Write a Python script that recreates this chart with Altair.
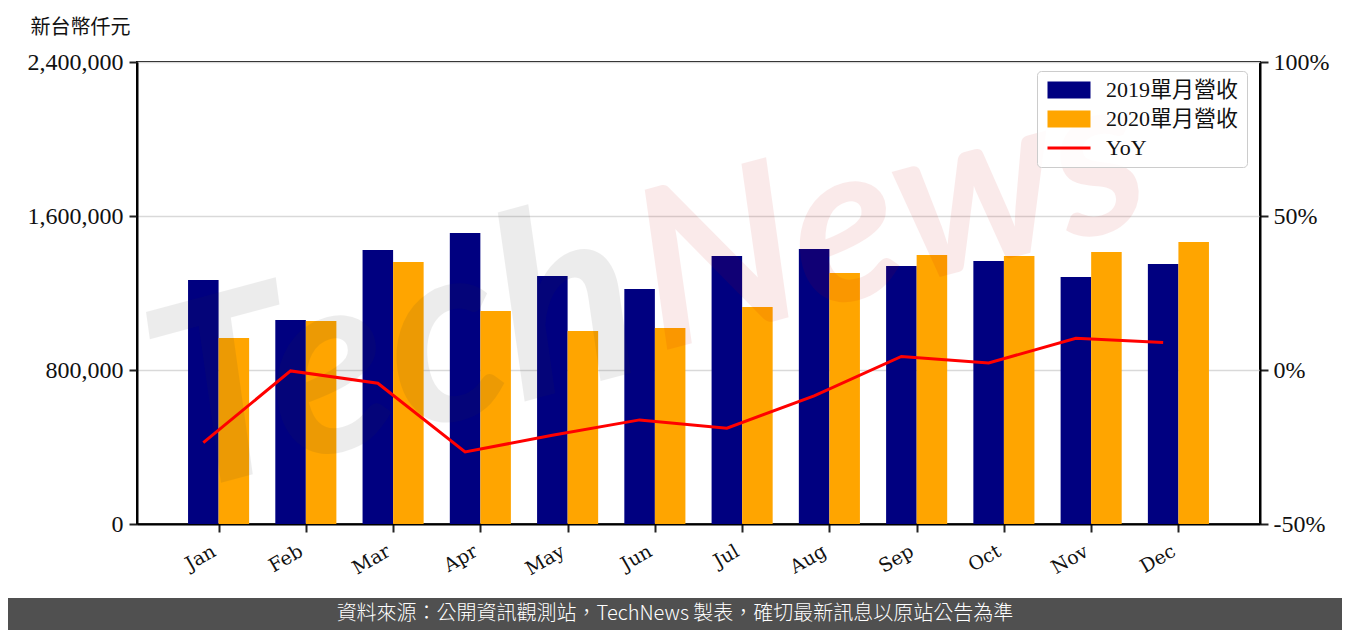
import altair as alt
import pandas as pd

# ---------------- data ----------------
months = ["Jan", "Feb", "Mar", "Apr", "May", "Jun", "Jul", "Aug", "Sep", "Oct", "Nov", "Dec"]
rev_2019 = [1267500, 1059700, 1423400, 1511700, 1288300, 1220800,
            1392200, 1428600, 1340300, 1366200, 1283100, 1350600]
rev_2020 = [966200, 1054500, 1361000, 1106500, 1002600, 1018200,
            1127300, 1303900, 1397400, 1392200, 1413000, 1464900]
yoy = [-0.236, -0.003, -0.043, -0.266, -0.212, -0.162,
       -0.189, -0.084, 0.044, 0.023, 0.103, 0.089]
series_names = ["2019單月營收", "2020單月營收", "YoY"]
series_colors = ["#000080", "#FFA500", "#FF0000"]
left_ticks = [0, 800000, 1600000, 2400000]
right_ticks = [-0.5, 0, 0.5, 1.0]
y_title = "新台幣仟元"
footer_text = "資料來源：公開資訊觀測站，TechNews 製表，確切最新訊息以原站公告為準"
watermark_a = "Tech"
watermark_b = "News"

df = pd.DataFrame({"month": months, "i": list(range(len(months))),
                   "v2019": rev_2019, "v2020": rev_2020, "yoy": yoy})
one = pd.DataFrame({"k": [0]})

# ---------------- layout constants ----------------
W, H = 1123, 462
PAD_L, PAD_T = 129, 54
TOTAL_W, TOTAL_H = 1334, 622

SERIF = "'Liberation Serif', 'Noto Sans CJK TC', serif"
CJK = "'Noto Sans CJK TC', sans-serif"

xscale = alt.Scale(domain=[-0.935, 11.935], nice=False, zero=False)
month_expr = "[" + ",".join("'%s'" % m for m in months) + "][datum.value]"
xaxis = alt.Axis(values=list(range(len(months))), labelExpr=month_expr, title=None,
                 grid=False, labelAngle=-30, labelAlign="right", labelBaseline="bottom",
                 labelFont="DejaVu Serif", labelFontSize=19, labelColor="#111111",
                 labelPadding=26, tickSize=8, tickWidth=2, tickColor="#222222",
                 domainColor="black", domainWidth=2)

yscale = alt.Scale(domain=[0, 2400000], nice=False, zero=True)
yaxis = alt.Axis(values=left_ticks, format=",d", orient="left",
                 labelFont=SERIF, labelFontSize=24, labelColor="#111111", labelPadding=6,
                 tickSize=8, tickWidth=2, tickColor="#222222",
                 domainColor="black", domainWidth=2,
                 grid=True, gridColor="#d9d9d9", gridWidth=1.5,
                 title=y_title, titleAngle=0, titleAlign="left", titleBaseline="middle",
                 titleX=-107, titleY=-35, titleFont=CJK, titleFontSize=20,
                 titleFontWeight="normal", titleColor="#111111")

rscale = alt.Scale(domain=[-0.5, 1.0], nice=False, zero=False)
raxis = alt.Axis(values=right_ticks, orient="right",
                 labelExpr="round(datum.value*100) + '%'",
                 labelFont=SERIF, labelFontSize=24, labelColor="#111111", labelPadding=5,
                 tickSize=8, tickWidth=2, tickColor="#222222",
                 domainColor="black", domainWidth=2, grid=False, title=None)

# ---------------- bars ----------------
b19 = alt.Chart(df).transform_calculate(x0="datum.i - 0.35").mark_bar(
    color=series_colors[0]).encode(
    x=alt.X("x0:Q", scale=xscale, axis=xaxis),
    x2="i:Q",
    y=alt.Y("v2019:Q", scale=yscale, axis=yaxis),
    y2=alt.datum(0),
)
b20 = alt.Chart(df).transform_calculate(x1="datum.i + 0.35").mark_bar(
    color=series_colors[1]).encode(
    x=alt.X("i:Q", scale=xscale, axis=xaxis),
    x2="x1:Q",
    y=alt.Y("v2020:Q", scale=yscale, axis=yaxis),
    y2=alt.datum(0),
)

# ---------------- watermark ----------------
wm1 = alt.Chart(one).mark_text(
    text=watermark_a, font="Lato", fontSize=255, fontStyle="italic", fontWeight="bold",
    angle=345, align="right", baseline="alphabetic", color="#333333", opacity=0.085
).encode(x=alt.value(516), y=alt.value(305))
wm2 = alt.Chart(one).mark_text(
    text=watermark_b, font="Lato", fontSize=222, fontStyle="italic", fontWeight="bold",
    angle=345, align="left", baseline="alphabetic", color="#cc0000", opacity=0.08
).encode(x=alt.value(522), y=alt.value(290))

left = alt.layer(b19, b20, wm1, wm2)

# ---------------- YoY line ----------------
line = alt.Chart(df).transform_calculate(xl="datum.i - 0.175").mark_line(
    color=series_colors[2], strokeWidth=3).encode(
    x=alt.X("xl:Q", scale=xscale, axis=xaxis),
    y=alt.Y("yoy:Q", scale=rscale, axis=raxis),
)

# ---------------- legend (through scales) ----------------
rect_path = "M-2.53,-1H2.53V1H-2.53Z"
line_path = "M-2.53,-0.18H2.53V0.18H-2.53Z"
leg = alt.Legend(title=None, orient="none", legendX=900, legendY=9, padding=8,
                 symbolSize=289, symbolStrokeWidth=0, symbolOffset=13, labelOffset=26,
                 rowPadding=7, labelFont=SERIF, labelFontSize=22, labelColor="#111111",
                 labelLimit=400, fillColor="rgba(255,255,255,0.85)", strokeColor="#cccccc",
                 cornerRadius=4, symbolOpacity=1)
legend_layer = alt.Chart(pd.DataFrame({"series": series_names})).transform_filter(
    "false").mark_point(filled=True, opacity=1).encode(
    color=alt.Color("series:N", scale=alt.Scale(domain=series_names, range=series_colors),
                    legend=leg),
    shape=alt.Shape("series:N", scale=alt.Scale(domain=series_names,
                                                range=[rect_path, rect_path, line_path]),
                    legend=leg),
)

# ---------------- footer ----------------
footer_rect = alt.Chart(one).mark_rect(color="#505050").encode(
    x=alt.value(-PAD_L), x2=alt.value(TOTAL_W - PAD_L),
    y=alt.value(536), y2=alt.value(568))
footer_txt = alt.Chart(one).mark_text(
    text=footer_text, font=CJK, fontSize=20, fontWeight=300, color="white",
    align="center", baseline="middle").encode(
    x=alt.value(TOTAL_W / 2 - PAD_L), y=alt.value(552))

chart = alt.layer(left, line, legend_layer, footer_rect, footer_txt).resolve_scale(
    y="independent"
).properties(
    width=W, height=H,
    autosize=alt.AutoSizeParams(type="none"),
    padding={"left": PAD_L, "top": PAD_T, "right": TOTAL_W - PAD_L - W,
             "bottom": TOTAL_H - PAD_T - H},
).configure_view(stroke="black", strokeWidth=2)

chart.save("out.html", embed_options={"renderer": "svg", "actions": False})
